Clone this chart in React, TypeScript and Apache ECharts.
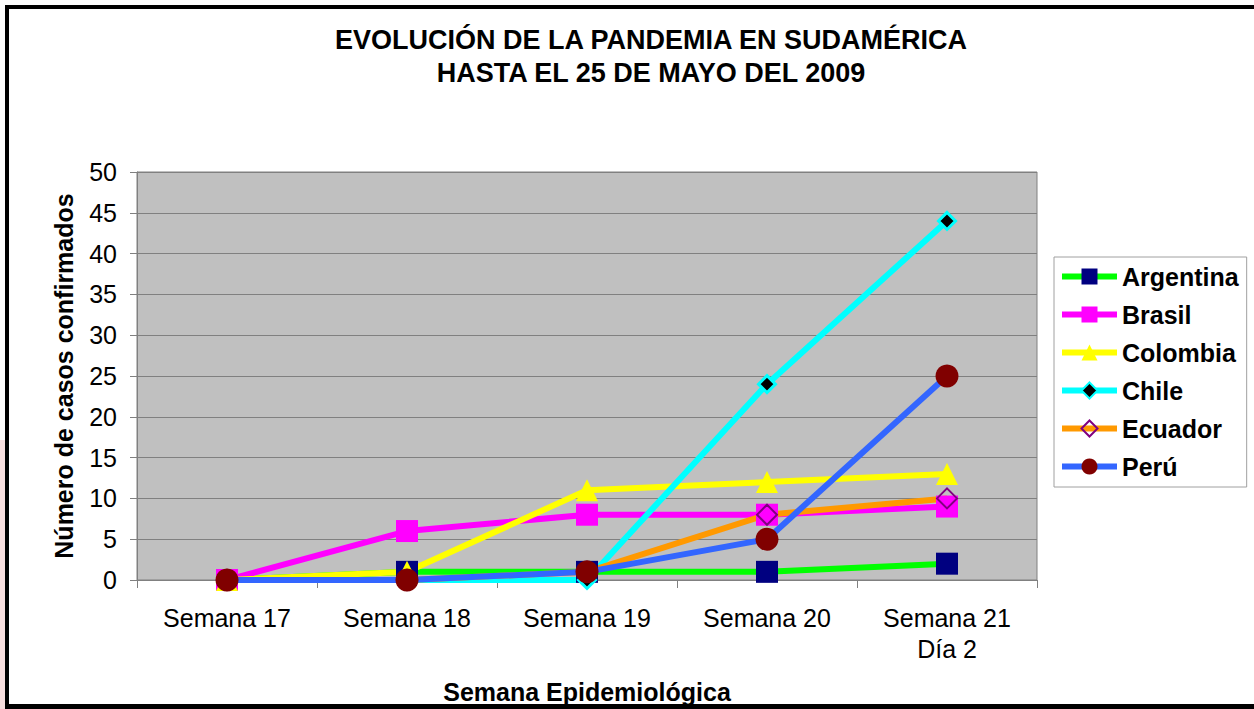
import React, { useEffect, useRef } from "react";
import * as echarts from "echarts";

const categories = ["Semana 17", "Semana 18", "Semana 19", "Semana 20", "Semana 21\nDía 2"];
const argentina = [0, 1, 1, 1, 2];
const brasil = [0, 6, 8, 8, 9];
const colombia = [0, 1, 11, 12, 13];
const chile = [0, 0, 0, 24, 44];
const ecuador = [0, 0, 1, 8, 10];
const peru = [0, 0, 1, 5, 25];

const FONT = "'Liberation Sans', Arial, sans-serif";

export default function App() {
  const ref = useRef<HTMLDivElement>(null);
  useEffect(() => {
    if (!ref.current) return;
    const chart = echarts.init(ref.current, undefined, { renderer: "svg" });
    const lw = 6;
    const option: any = {
      animation: false,
      backgroundColor: "#ffffff",
      textStyle: { fontFamily: FONT, color: "#000" },
      graphic: [
        { type: "rect", shape: { x: 0, y: 440, width: 5, height: 269 }, style: { fill: "#f6dede" }, silent: true },
        { type: "rect", shape: { x: 5, y: 5, width: 1249, height: 4 }, style: { fill: "#000" }, silent: true },
        { type: "rect", shape: { x: 5, y: 5, width: 4, height: 704 }, style: { fill: "#000" }, silent: true },
        { type: "rect", shape: { x: 5, y: 704, width: 1249, height: 5 }, style: { fill: "#000" }, silent: true },
        {
          type: "text",
          x: 651,
          y: 40,
          style: {
            text: "EVOLUCIÓN DE LA PANDEMIA EN SUDAMÉRICA",
            font: `bold 27px ${FONT}`,
            fill: "#000",
            textAlign: "center",
            textVerticalAlign: "middle",
          },
        },
        {
          type: "text",
          x: 651,
          y: 73,
          style: {
            text: "HASTA EL 25 DE MAYO DEL 2009",
            font: `bold 27px ${FONT}`,
            fill: "#000",
            textAlign: "center",
            textVerticalAlign: "middle",
          },
        },
      ],
      grid: {
        left: 137,
        top: 172,
        width: 900,
        height: 411,
        show: true,
        backgroundColor: "#c0c0c0",
        borderColor: "#808080",
        borderWidth: 1,
        containLabel: false,
      },
      legend: {
        orient: "vertical",
        left: 1054,
        top: 257,
        padding: [7, 8, 8, 5],
        itemWidth: 55,
        itemHeight: 20,
        itemGap: 13,
        borderColor: "#a0a0a0",
        borderWidth: 1,
        backgroundColor: "#ffffff",
        lineStyle: { width: 6 },
        textStyle: { fontFamily: FONT, fontSize: 25, fontWeight: "bold", color: "#000" },
      },
      xAxis: {
        type: "category",
        data: categories,
        boundaryGap: true,
        axisLine: { lineStyle: { color: "#808080", width: 1 } },
        axisTick: { show: true, length: 8, lineStyle: { color: "#808080" } },
        axisLabel: { fontFamily: FONT, fontSize: 25, color: "#000", margin: 22, lineHeight: 31 },
        name: "Semana Epidemiológica",
        nameLocation: "middle",
        nameGap: 99,
        nameTextStyle: { fontFamily: FONT, fontSize: 25, fontWeight: "bold", color: "#000" },
        splitLine: { show: false },
      },
      yAxis: {
        type: "value",
        min: 0,
        max: 50,
        interval: 5,
        axisLine: { show: true, lineStyle: { color: "#808080", width: 1 } },
        axisTick: { show: true, length: 7, lineStyle: { color: "#808080" } },
        axisLabel: { fontFamily: FONT, fontSize: 25, color: "#000", margin: 20 },
        splitLine: { show: true, lineStyle: { color: "#808080", width: 1 } },
        name: "Número de casos confirmados",
        nameLocation: "middle",
        nameGap: 61,
        nameTextStyle: { fontFamily: FONT, fontSize: 25, fontWeight: "bold", color: "#000" },
      },
      series: [
        {
          name: "Argentina",
          type: "line",
          data: argentina,
          symbol: "rect",
          symbolSize: 22,
          lineStyle: { color: "#00ff00", width: lw },
          itemStyle: { color: "#000080" },
        },
        {
          name: "Brasil",
          type: "line",
          data: brasil,
          symbol: "rect",
          symbolSize: 22,
          lineStyle: { color: "#ff00ff", width: lw },
          itemStyle: { color: "#ff00ff" },
        },
        {
          name: "Colombia",
          type: "line",
          data: colombia,
          symbol: "triangle",
          symbolSize: 22,
          lineStyle: { color: "#ffff00", width: lw },
          itemStyle: { color: "#ffff00" },
        },
        {
          name: "Chile",
          type: "line",
          data: chile,
          symbol: "diamond",
          symbolSize: 17,
          lineStyle: { color: "#00ffff", width: lw },
          itemStyle: { color: "#000000", borderColor: "#00ffff", borderWidth: 3 },
        },
        {
          name: "Ecuador",
          type: "line",
          data: ecuador,
          symbol: "diamond",
          symbolSize: 20,
          lineStyle: { color: "#ff9900", width: lw },
          itemStyle: { color: "rgba(0,0,0,0)", borderColor: "#800080", borderWidth: 2 },
        },
        {
          name: "Perú",
          type: "line",
          data: peru,
          symbol: "circle",
          symbolSize: 23,
          lineStyle: { color: "#3366ff", width: lw },
          itemStyle: { color: "#800000" },
        },
      ],
    };
    chart.setOption(option);
    return () => chart.dispose();
  }, []);
  return (
    <div
      ref={ref}
      style={{ position: "absolute", left: 0, top: 0, width: 1254, height: 709 }}
    />
  );
}
